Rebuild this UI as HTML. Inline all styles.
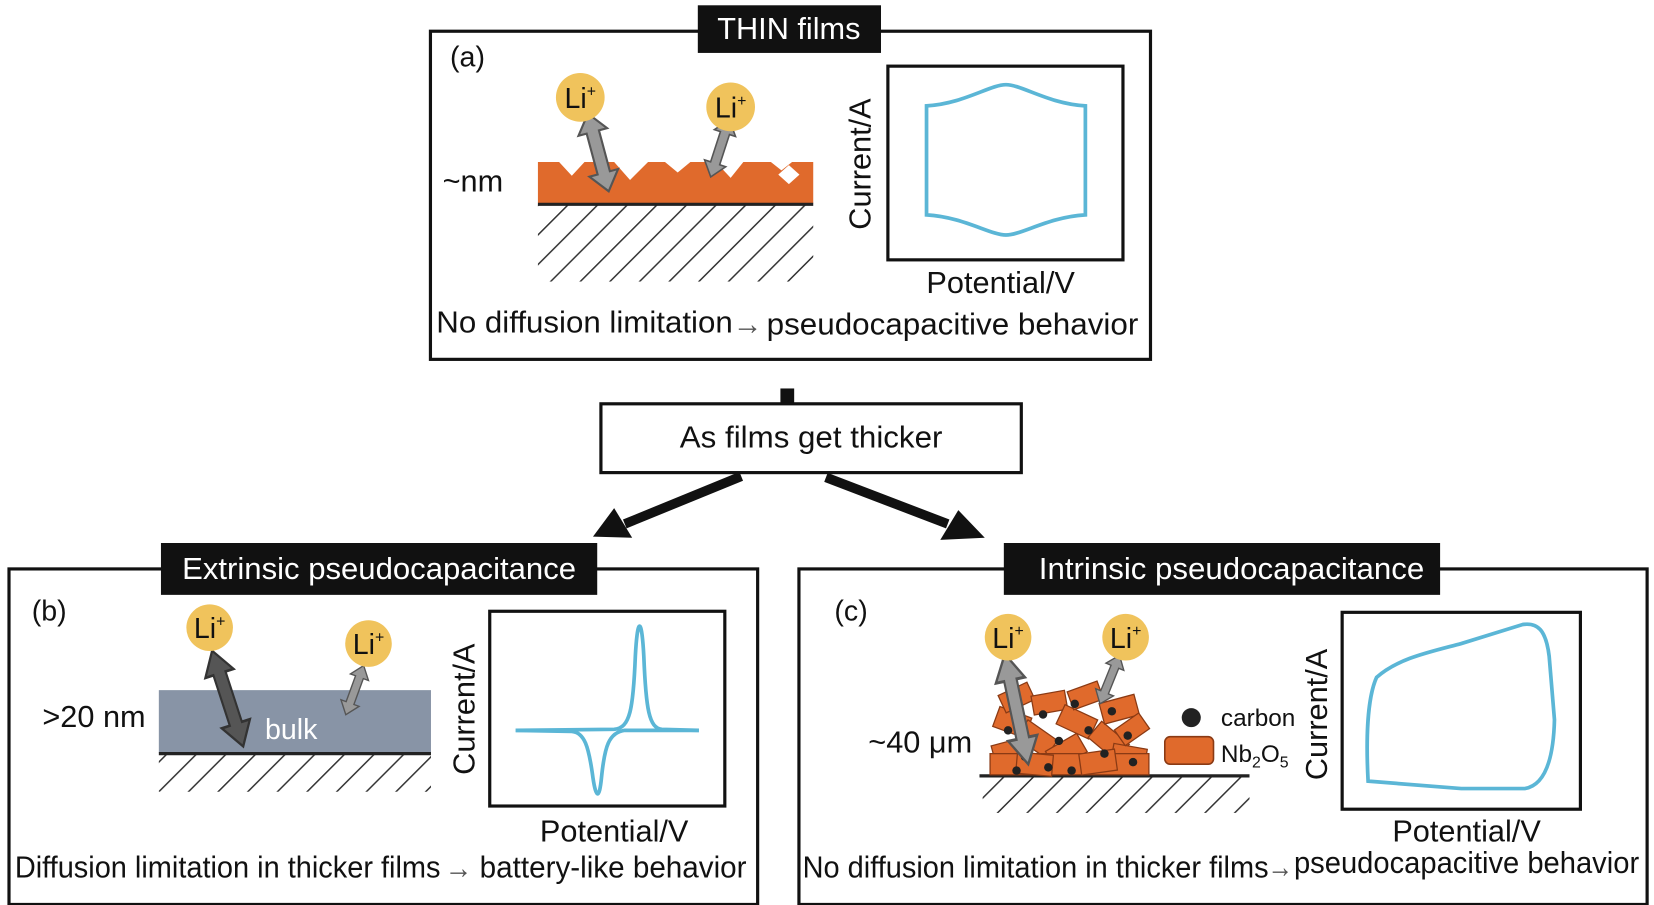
<!DOCTYPE html>
<html><head><meta charset="utf-8"><style>
html,body{margin:0;padding:0;background:#fff;width:1654px;height:905px;overflow:hidden}
text{font-family:"Liberation Sans",Arial,sans-serif;fill:#111}
</style></head><body>
<svg width="1654" height="905" viewBox="0 0 1562 855" preserveAspectRatio="none" xmlns="http://www.w3.org/2000/svg">
<defs>
<pattern id="h" width="28" height="80" patternUnits="userSpaceOnUse" patternTransform="skewX(-45)">
<line x1="2" y1="0" x2="2" y2="80" stroke="#333" stroke-width="2"/>
</pattern>
<g id="dbl"><polygon points="0,-38 14,-20 6,-20 6,20 14,20 0,38 -14,20 -6,20 -6,-20 -14,-20" fill="#999" stroke="#555" stroke-width="2"/></g>
</defs>

<!-- Panel a -->
<rect x="406.5" y="29.5" width="680" height="310" fill="none" stroke="#111" stroke-width="3"/>
<rect x="659" y="5" width="173" height="45" fill="#111"/>
<text x="745" y="37" font-size="29" text-anchor="middle" style="fill:#fff">THIN films</text>
<text x="425" y="63" font-size="27">(a)</text>
<text x="418" y="181" font-size="29">~nm</text>
<rect x="508" y="192" width="260" height="74" fill="url(#h)"/>
<polygon points="508,153 528,153 540,166 552,153 580,153 595,170 612,153 628,153 640,163 652,153 676,153 690,168 702,153 728,153 738,161 748,153 768,153 768,192 508,192" fill="#e06a2c"/>
<polygon points="735,165 745,156 755,165 745,174" fill="#fff"/>
<line x1="508" y1="193" x2="768" y2="193" stroke="#222" stroke-width="3"/>
<g transform="translate(565,144) rotate(-15)"><use href="#dbl"/></g>
<g transform="translate(680,140) rotate(18) scale(0.75)"><use href="#dbl"/></g>
<circle cx="548" cy="92" r="23" fill="#f0c35c"/><text x="548" y="102" font-size="27" text-anchor="middle">Li<tspan font-size="15" dy="-11">+</tspan></text>
<circle cx="690" cy="101" r="23" fill="#f0c35c"/><text x="690" y="111" font-size="27" text-anchor="middle">Li<tspan font-size="15" dy="-11">+</tspan></text>
<rect x="838.5" y="62.5" width="222" height="183" fill="none" stroke="#111" stroke-width="3"/>
<path d="M875,100 C910,98 935,80 950,80 C965,80 990,98 1025,100 L1025,203 C990,205 965,222 950,222 C935,222 910,205 875,203 Z" fill="none" stroke="#5bb6d6" stroke-width="3.5"/>
<text transform="translate(822,155) rotate(-90)" font-size="29" text-anchor="middle">Current/A</text>
<text x="945" y="277" font-size="29" text-anchor="middle">Potential/V</text>
<text x="412" y="314" font-size="29" textLength="280" lengthAdjust="spacingAndGlyphs">No diffusion limitation</text>
<text x="692" y="316" font-size="30" style="fill:#555" textLength="28" lengthAdjust="spacingAndGlyphs">→</text>
<text x="724" y="316" font-size="29" textLength="351" lengthAdjust="spacingAndGlyphs">pseudocapacitive behavior</text>

<!-- connector -->
<rect x="737" y="367" width="13" height="15" fill="#111"/>
<rect x="567.5" y="381.5" width="397" height="65" fill="#fff" stroke="#111" stroke-width="3"/>
<text x="766" y="423" font-size="29" text-anchor="middle" textLength="248" lengthAdjust="spacingAndGlyphs">As films get thicker</text>
<line x1="700" y1="450" x2="590" y2="495" stroke="#111" stroke-width="9"/>
<polygon points="560,507 580,480 597,508" fill="#111"/>
<line x1="780" y1="451" x2="895" y2="495" stroke="#111" stroke-width="9"/>
<polygon points="930,508 888,510 905,482" fill="#111"/>

<!-- Panel b -->
<rect x="8.5" y="537.5" width="707" height="317" fill="none" stroke="#111" stroke-width="3"/>
<rect x="152" y="513" width="412" height="49" fill="#111"/>
<text x="358" y="547" font-size="29" text-anchor="middle" style="fill:#fff" textLength="372" lengthAdjust="spacingAndGlyphs">Extrinsic pseudocapacitance</text>
<text x="30" y="586" font-size="27">(b)</text>
<text x="40" y="687" font-size="29">&gt;20 nm</text>
<rect x="150" y="712" width="257" height="36" fill="url(#h)"/>
<rect x="150" y="652" width="257" height="59" fill="#8894a6"/>
<line x1="150" y1="712" x2="407" y2="712" stroke="#222" stroke-width="3"/>
<text x="275" y="698" font-size="27" text-anchor="middle" style="fill:#fff">bulk</text>
<g transform="translate(215,660) rotate(-18) scale(1,1.25)"><polygon points="0,-38 14,-20 6,-20 6,20 14,20 0,38 -14,20 -6,20 -6,-20 -14,-20" fill="#555" stroke="#333" stroke-width="2"/></g>
<g transform="translate(335,652) rotate(20) scale(0.65)"><use href="#dbl"/></g>
<circle cx="198" cy="593" r="22" fill="#f0c35c"/><text x="198" y="603" font-size="27" text-anchor="middle">Li<tspan font-size="15" dy="-11">+</tspan></text>
<circle cx="348" cy="608" r="22" fill="#f0c35c"/><text x="348" y="618" font-size="27" text-anchor="middle">Li<tspan font-size="15" dy="-11">+</tspan></text>
<rect x="462.5" y="577.5" width="222" height="184" fill="none" stroke="#111" stroke-width="3"/>
<path d="M487,690 L580,689 C595,688 598,670 600,620 C602,582 606,582 608,620 C610,670 613,688 625,689 L660,690" fill="none" stroke="#5bb6d6" stroke-width="3.5"/>
<path d="M487,690 L540,691 C552,692 556,705 560,735 C563,755 566,755 568,735 C571,705 575,692 590,690 L660,690" fill="none" stroke="#5bb6d6" stroke-width="3.5"/>
<text transform="translate(448,670) rotate(-90)" font-size="29" text-anchor="middle">Current/A</text>
<text x="580" y="795" font-size="29" text-anchor="middle">Potential/V</text>
<text x="14" y="829" font-size="29" textLength="402" lengthAdjust="spacingAndGlyphs">Diffusion limitation in thicker films</text>
<text x="420" y="830" font-size="30" style="fill:#555" textLength="26" lengthAdjust="spacingAndGlyphs">→</text>
<text x="453" y="829" font-size="29" textLength="252" lengthAdjust="spacingAndGlyphs">battery-like behavior</text>

<!-- Panel c -->
<rect x="754.5" y="537.5" width="801" height="317" fill="none" stroke="#111" stroke-width="3"/>
<rect x="948" y="513" width="412" height="49" fill="#111"/>
<text x="1163" y="547" font-size="29" text-anchor="middle" style="fill:#fff" textLength="364" lengthAdjust="spacingAndGlyphs">Intrinsic pseudocapacitance</text>
<text x="788" y="586" font-size="27">(c)</text>
<text x="820" y="711" font-size="29">~40 μm</text>
<rect x="928" y="734" width="252" height="34" fill="url(#h)"/>
<line x1="925" y1="733" x2="1180" y2="733" stroke="#222" stroke-width="3"/>
<g fill="#e06a2c" stroke="#8a3a14" stroke-width="1.2">
<rect x="938" y="700" width="34" height="20" transform="rotate(-15 955 710)"/>
<rect x="940" y="672" width="32" height="20" transform="rotate(20 955 682)"/>
<rect x="945" y="650" width="30" height="18" transform="rotate(-25 960 659)"/>
<rect x="962" y="688" width="34" height="20" transform="rotate(35 979 698)"/>
<rect x="975" y="655" width="32" height="18" transform="rotate(-10 990 664)"/>
<rect x="990" y="700" width="34" height="20" transform="rotate(-30 1007 710)"/>
<rect x="1000" y="672" width="34" height="20" transform="rotate(25 1017 682)"/>
<rect x="1010" y="648" width="30" height="18" transform="rotate(-20 1025 657)"/>
<rect x="1030" y="690" width="34" height="20" transform="rotate(40 1047 700)"/>
<rect x="1040" y="660" width="34" height="20" transform="rotate(-15 1057 670)"/>
<rect x="1050" y="705" width="32" height="20" transform="rotate(10 1066 715)"/>
<rect x="1055" y="680" width="28" height="18" transform="rotate(-35 1069 689)"/>
<rect x="935" y="712" width="150" height="20"/>
<rect x="960" y="712" width="34" height="20" transform="rotate(5 977 722)"/>
<rect x="1020" y="710" width="34" height="20" transform="rotate(-8 1037 720)"/>
</g>
<g fill="#222">
<circle cx="952" cy="690" r="4"/><circle cx="968" cy="715" r="4"/><circle cx="985" cy="675" r="4"/><circle cx="1000" cy="700" r="4"/>
<circle cx="1015" cy="665" r="4"/><circle cx="1028" cy="690" r="4"/><circle cx="1043" cy="712" r="4"/><circle cx="1050" cy="672" r="4"/>
<circle cx="1065" cy="695" r="4"/><circle cx="1070" cy="720" r="4"/><circle cx="990" cy="725" r="4"/><circle cx="1012" cy="728" r="4"/><circle cx="960" cy="728" r="4"/>
</g>
<g transform="translate(960,670) rotate(-12) scale(1,1.4)"><use href="#dbl"/></g>
<g transform="translate(1048,642) rotate(22) scale(0.65)"><use href="#dbl"/></g>
<circle cx="952" cy="602" r="22" fill="#f0c35c"/><text x="952" y="612" font-size="27" text-anchor="middle">Li<tspan font-size="15" dy="-11">+</tspan></text>
<circle cx="1063" cy="602" r="22" fill="#f0c35c"/><text x="1063" y="612" font-size="27" text-anchor="middle">Li<tspan font-size="15" dy="-11">+</tspan></text>
<circle cx="1125" cy="678" r="9" fill="#222"/>
<text x="1153" y="686" font-size="23">carbon</text>
<rect x="1100" y="696" width="46" height="26" rx="5" fill="#e06a2c" stroke="#8a3a14" stroke-width="1.5"/>
<text x="1153" y="720" font-size="23">Nb<tspan font-size="15" dy="5">2</tspan><tspan dy="-5">O</tspan><tspan font-size="15" dy="5">5</tspan></text>
<rect x="1267.5" y="578.5" width="225" height="186" fill="none" stroke="#111" stroke-width="3"/>
<path d="M1300,640 C1320,622 1350,616 1380,608 L1438,590 C1452,588 1460,595 1463,620 L1468,680 C1467,720 1458,742 1440,745 L1380,745 L1292,738 C1290,700 1291,660 1300,640 Z" fill="none" stroke="#5bb6d6" stroke-width="3.5"/>
<text transform="translate(1253,675) rotate(-90)" font-size="29" text-anchor="middle">Current/A</text>
<text x="1385" y="795" font-size="29" text-anchor="middle">Potential/V</text>
<text x="758" y="829" font-size="29" textLength="440" lengthAdjust="spacingAndGlyphs">No diffusion limitation in thicker films</text>
<text x="1197" y="829" font-size="30" style="fill:#555" textLength="24" lengthAdjust="spacingAndGlyphs">→</text>
<text x="1222" y="825" font-size="29" textLength="326" lengthAdjust="spacingAndGlyphs">pseudocapacitive behavior</text>
</svg>
</body></html>
